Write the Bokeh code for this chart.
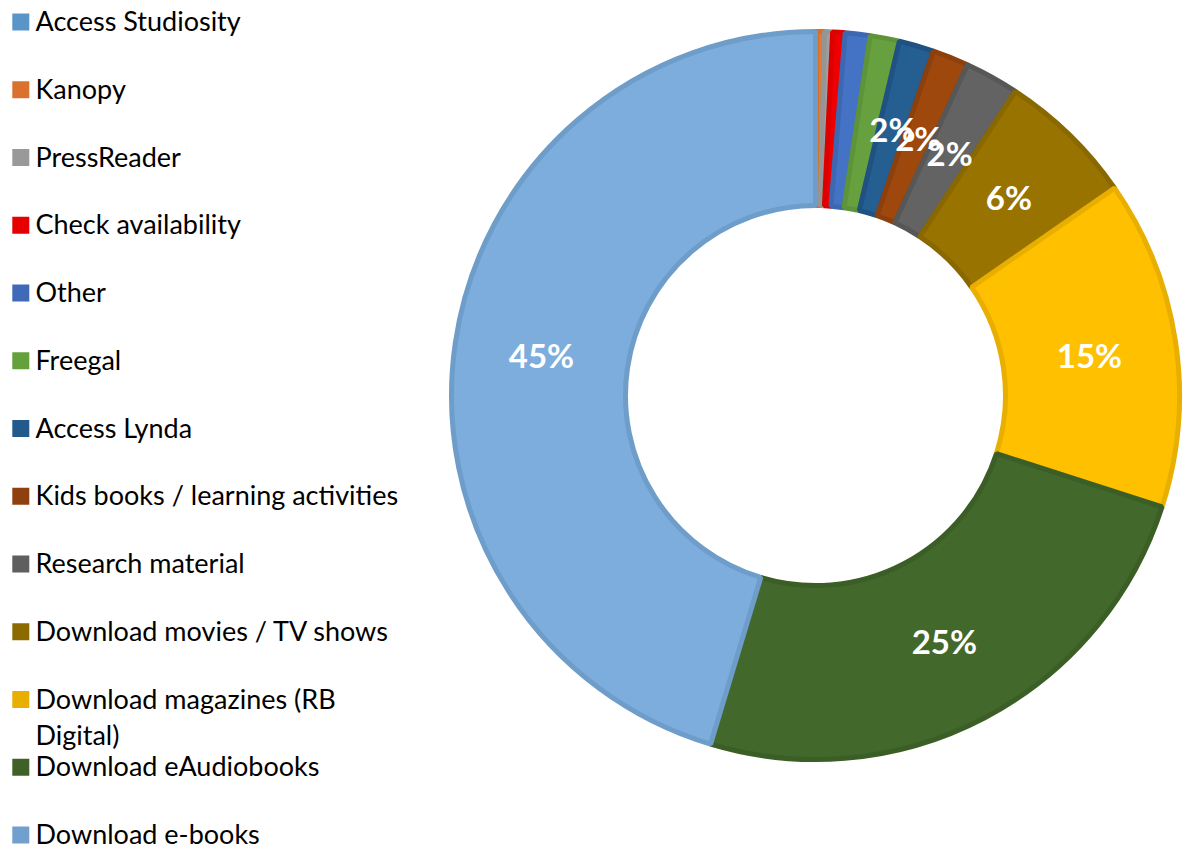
import math
from bokeh.plotting import figure
from bokeh.models import Range1d, ColumnDataSource
from bokeh.core.properties import value
from bokeh.embed import file_html
from bokeh.resources import INLINE

# ---- data (clockwise from 12 o'clock, legend order) ----
categories = [
    "Access Studiosity", "Kanopy", "PressReader", "Check availability", "Other",
    "Freegal", "Access Lynda", "Kids books / learning activities", "Research material",
    "Download movies / TV shows", "Download magazines (RB\nDigital)",
    "Download eAudiobooks", "Download e-books",
]
shares = [0.05, 0.35, 0.35, 0.55, 1.1, 1.3, 1.55, 1.6, 2.4, 6.1, 14.6, 24.7, 45.35]
fill_colors = ["#5B9BD5", "#E07A35", "#A0A0A0", "#EE0000", "#4472C4", "#67A13F",
               "#255E91", "#9E480E", "#636363", "#997300", "#FFC000", "#43682B", "#7DADDC"]
line_colors = ["#5592C8", "#D4702C", "#959595", "#DD0000", "#3E67B2", "#5E9439",
               "#1F5283", "#8C400D", "#575757", "#8A6800", "#E8AE00", "#3B5E26", "#6E9DCA"]
legend_colors = ["#5A95C8", "#D9722F", "#999999", "#E60000", "#4169B9", "#64A03C",
                 "#225A8C", "#8E400E", "#5F5F5F", "#8C6A00", "#E8AE00", "#3F6128", "#72A0CE"]

W, H = 1186, 849
p = figure(width=W, height=H, output_backend="svg", toolbar_location=None,
           x_range=Range1d(0, W), y_range=Range1d(0, H), min_border=0)
p.axis.visible = False
p.grid.visible = False
p.outline_line_color = None
p.background_fill_color = "white"

# ---- donut ----
cx, cy = 815, H - 395
r_out, r_in = 364, 190
total = sum(shares)
starts, ends, lx, ly, labels = [], [], [], [], []
acc = 0.0
for s in shares:
    a0 = acc / total * 360
    acc += s
    a1 = acc / total * 360
    starts.append(math.radians(90 - a0))
    ends.append(math.radians(90 - a1))
    mid = math.radians((a0 + a1) / 2)
    rm = (r_out + r_in) / 2
    lx.append(cx + rm * math.sin(mid))
    ly.append(cy + rm * math.cos(mid))
    pct = round(s / total * 100)
    labels.append(f"{pct}%" if pct >= 2 else "")

src = ColumnDataSource(dict(start=starts, end=ends, fill=fill_colors, line=line_colors,
                            lx=lx, ly=ly, label=labels))
p.annular_wedge(x=cx, y=cy, inner_radius=r_in, outer_radius=r_out,
                start_angle="start", end_angle="end", direction="clock",
                fill_color="fill", line_color="line", line_width=5, source=src)
p.text(x="lx", y="ly", text="label", source=src, text_color="white",
       text_font=value("Lato"), text_font_style="bold", text_font_size="33px",
       text_align="center", text_baseline="middle")

# ---- legend ----
step = 67.75
top = H - 20
sq_x, sq_y, tx, ty, tt = [], [], [], [], []
for i, name in enumerate(categories):
    y = top - i * step
    sq_x.append(20.3)
    sq_y.append(y - 1.5)
    for j, line in enumerate(name.split("\n")):
        tx.append(35)
        ty.append(y - j * 36)
        tt.append(line)
p.rect(x=sq_x, y=sq_y, width=17, height=17, fill_color=legend_colors, line_color=None)
p.text(x=tx, y=ty, text=tt, text_color="black", text_font=value("Lato"),
       text_font_size="27px", text_align="left", text_baseline="middle")

open("out.html", "w").write(file_html(p, INLINE))
